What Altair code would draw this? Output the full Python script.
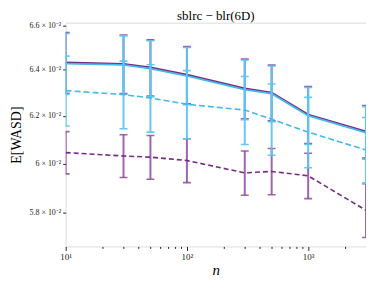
import altair as alt
import pandas as pd

n_vals = [10, 30, 50, 100, 300, 500, 1000, 3000]

sp_mean = [0.06432, 0.06426, 0.06410, 0.06378, 0.06318, 0.06300, 0.06205, 0.06133]
sp_err = [0.00135, 0.00130, 0.00124, 0.00126, 0.00130, 0.00121, 0.00122, 0.00111]
sb_mean = [0.06428, 0.06422, 0.06406, 0.06374, 0.06314, 0.06296, 0.06201, 0.06129]
sb_err = [0.00135, 0.00130, 0.00124, 0.00126, 0.00130, 0.00121, 0.00122, 0.00111]
db_mean = [0.06309, 0.06292, 0.06277, 0.06250, 0.06225, 0.06186, 0.06131, 0.06056]
db_err = [0.00152, 0.00147, 0.00146, 0.00147, 0.00146, 0.00152, 0.00149, 0.00137]
dp_mean = [0.06045, 0.06031, 0.06026, 0.06012, 0.05961, 0.05967, 0.05949, 0.05809]
dp_err = [0.00088, 0.00089, 0.00091, 0.00091, 0.00091, 0.00095, 0.00093, 0.00108]

y_ticks = [0.058, 0.060, 0.062, 0.064, 0.066]
x_major = [10, 100, 1000]
x_ticks = [10, 20, 30, 40, 50, 60, 70, 80, 90, 100, 200, 300, 400, 500, 600, 700,
           800, 900, 1000, 2000, 3000]

PURPLE = "#762a83"
PURPLE_BAR = "#8e4a9e"
BLUE = "#45b8ea"
BLUE_BAR = "#5cc6f2"

rows = []
for key, means, errs in [("sp", sp_mean, sp_err), ("sb", sb_mean, sb_err),
                         ("db", db_mean, db_err), ("dp", dp_mean, dp_err)]:
    for n, m, e in zip(n_vals, means, errs):
        rows.append({"series": key, "n": n, "mean": m, "lo": m - e, "hi": m + e})
df = pd.DataFrame(rows)

FONT = "Liberation Serif"
xscale = alt.Scale(type="log", domain=[10, 3000], nice=False)
yscale = alt.Scale(type="log", domain=[0.05666, 0.06612], nice=False, zero=False)

xaxis = alt.Axis(
    values=x_ticks,
    labelExpr="datum.value == 10 ? '10¹' : datum.value == 100 ? '10²' : datum.value == 1000 ? '10³' : ''",
    tickSize={"condition": {"test": "datum.value == 10 || datum.value == 100 || datum.value == 1000", "value": 4}, "value": 2},
    title="n", titleFontStyle="italic", titleFont=FONT, titleFontSize=15,
    titleFontWeight="normal", titlePadding=1, titleColor="#000",
    labelFont=FONT, labelFontSize=9, labelColor="#222", labelPadding=2,
    domain=False, grid=False, tickColor="#222", labelFlush=False,
)
yaxis = alt.Axis(
    values=y_ticks,
    labelExpr="format(datum.value * 100, '.1~f') + ' × 10⁻²'",
    title="E[WASD]", titleFont=FONT, titleFontSize=14, titleFontWeight="normal",
    titleColor="#000", titlePadding=6,
    labelFont=FONT, labelFontSize=8, labelColor="#222", labelPadding=2,
    tickSize=3, domain=False, grid=False, tickColor="#222",
)

base = alt.Chart(df)
X = alt.X("n:Q", scale=xscale, axis=xaxis)


def bars(key, color, opacity):
    sel = base.transform_filter(alt.datum.series == key)
    rule = sel.mark_rule(color=color, strokeWidth=2, opacity=opacity, clip=True).encode(
        x=X, y=alt.Y("lo:Q", scale=yscale, axis=yaxis), y2="hi:Q"
    )
    caps = sel.transform_fold(["lo", "hi"], as_=["end", "val"]).mark_tick(
        color=color, orient="horizontal", size=8, thickness=1.6, opacity=opacity, clip=True
    ).encode(x=X, y=alt.Y("val:Q", scale=yscale, axis=yaxis))
    return [rule, caps]


def line(key, color, dash=None, width=1.6):
    sel = base.transform_filter(alt.datum.series == key)
    kw = dict(color=color, strokeWidth=width, clip=True)
    if dash:
        kw["strokeDash"] = dash
    return sel.mark_line(**kw).encode(x=X, y=alt.Y("mean:Q", scale=yscale, axis=yaxis))


layers = []
layers += bars("sp", PURPLE_BAR, 0.9)
layers.append(line("sp", PURPLE, width=2.2))
layers += bars("dp", PURPLE_BAR, 0.85)
layers.append(line("dp", PURPLE, dash=[5, 3]))
layers += bars("sb", BLUE_BAR, 0.95)
layers.append(line("sb", BLUE, width=1.8))
layers += bars("db", BLUE_BAR, 0.95)
layers.append(line("db", BLUE, dash=[6, 3]))

chart = alt.layer(*layers).properties(
    width=302,
    height=225,
    title=alt.TitleParams("sblrc − blr(6D)", font=FONT, fontSize=13,
                          fontWeight="normal", color="#000", offset=-2),
    autosize=alt.AutoSizeParams(type="none"),
    padding={"left": 58, "top": 14, "right": 0, "bottom": 35},
).configure_view(stroke="#222", strokeWidth=1).configure(background="white")

chart.save("out.html", embed_options={"renderer": "svg", "actions": False})
